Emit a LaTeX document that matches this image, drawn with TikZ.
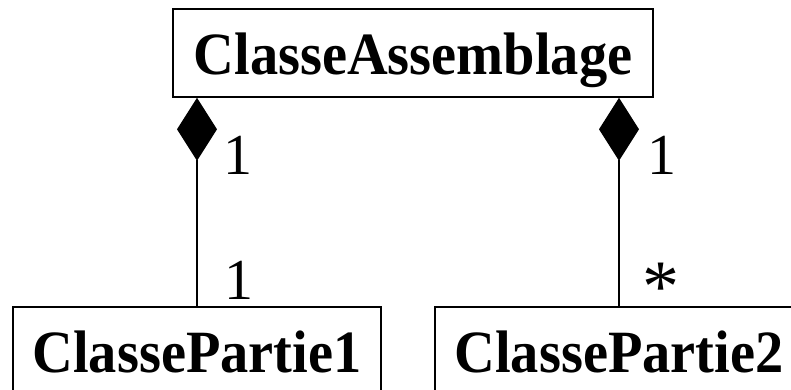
\documentclass[tikz,border=0pt]{standalone}
\usepackage{fontspec}
\usepackage{graphicx}
\setmainfont{Liberation Serif}
\usetikzlibrary{arrows.meta}
\newcommand\clsname[1]{\scalebox{0.94}[1]{#1}}
\begin{document}
\begin{tikzpicture}[x=1pt,y=-1pt,
  cls/.style={draw, line width=1.6pt, inner sep=0pt, text height=#1, text depth=0pt,
    font=\fontsize{60}{72}\selectfont\bfseries},
  lab/.style={inner sep=0pt, anchor=base, font=\fontsize{58}{70}\selectfont},
  comp/.style={line width=1.3pt, -{Diamond[length=63pt,width=40pt]}}]
\clip (0,0) rectangle (791,390);
\node[cls=44pt, minimum width=480pt, minimum height=88pt] (asm) at (413,53) {\clsname{ClasseAssemblage}};
\node[cls=27pt, minimum width=368pt, minimum height=103pt] (p1) at (197,358.5) {\clsname{ClassePartie1}};
\node[cls=27pt, minimum width=368pt, minimum height=103pt] (p2) at (619,358.5) {\clsname{ClassePartie2}};
\draw[comp] (p1.north) -- (p1.north |- asm.south);
\draw[comp] (p2.north) -- (p2.north |- asm.south);
\node[lab] (m1) at (238,175) {1};
\node[lab] (m2) at (661.5,175) {1};
\node[lab] (m3) at (239,299) {1};
\node[inner sep=0pt, anchor=north, font=\fontsize{74}{80}\selectfont] (m4) at (661,263) {*};
\end{tikzpicture}
\end{document}
